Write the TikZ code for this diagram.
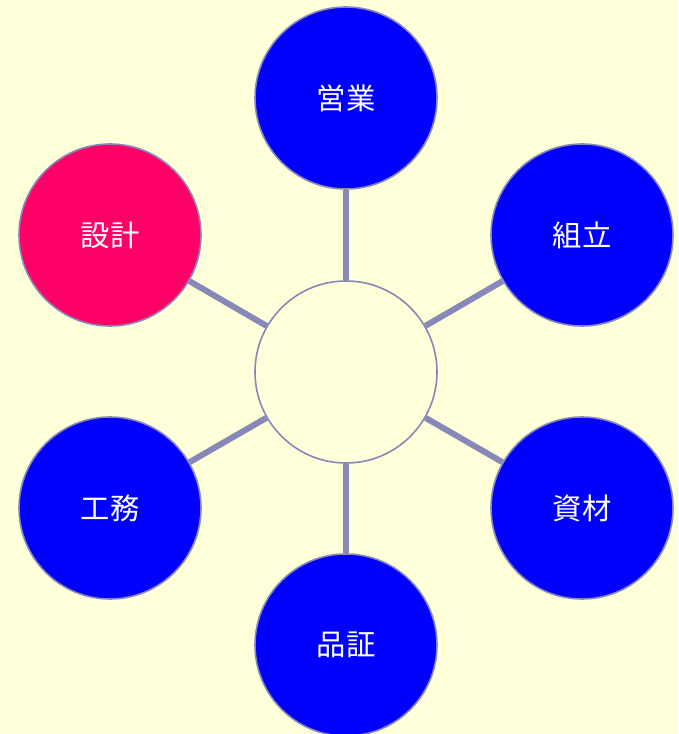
\documentclass[tikz,border=0pt]{standalone}
\usepackage{fontspec}
\newfontfamily\cjk{Noto Sans CJK JP}
\usetikzlibrary{positioning}
\definecolor{bgyellow}{RGB}{255,255,217}
\definecolor{linkgray}{RGB}{136,136,184}
\definecolor{deptblue}{RGB}{0,0,255}
\definecolor{deptred}{RGB}{255,0,102}
\tikzset{
  dept/.style={circle,draw=linkgray,line width=1.2pt,minimum size=136.5pt,inner sep=0pt,
    text=white,font=\cjk\fontsize{22}{26}\selectfont,fill=deptblue},
  hub/.style={circle,draw=linkgray,line width=1.2pt,minimum size=136.5pt,fill=bgyellow},
  link/.style={draw=linkgray,line width=4.5pt}
}
\begin{document}
\begin{tikzpicture}[x=0.75pt,y=0.75pt,yscale=-1,xscale=1]
%Background
\fill [bgyellow] (0,0) rectangle (678,734);
\useasboundingbox (0,0) rectangle (678,734);

%Shape: Circle hub
\node [hub] (hub) at (346,372) {};
%Shape: Circle departments
\node [dept] (sales) at (346,98) {営業};
\node [dept] (assembly) at (582,235) {組立};
\node [dept] (material) at (582,508) {資材};
\node [dept] (quality) at (346,645) {品証};
\node [dept] (works) at (110,508) {工務};
\node [dept,fill=deptred] (design) at (110,235) {設計};

%Straight Lines
\foreach \d in {sales,assembly,material,quality,works,design}
  \draw [link] (hub) -- (\d);

\end{tikzpicture}
\end{document}
